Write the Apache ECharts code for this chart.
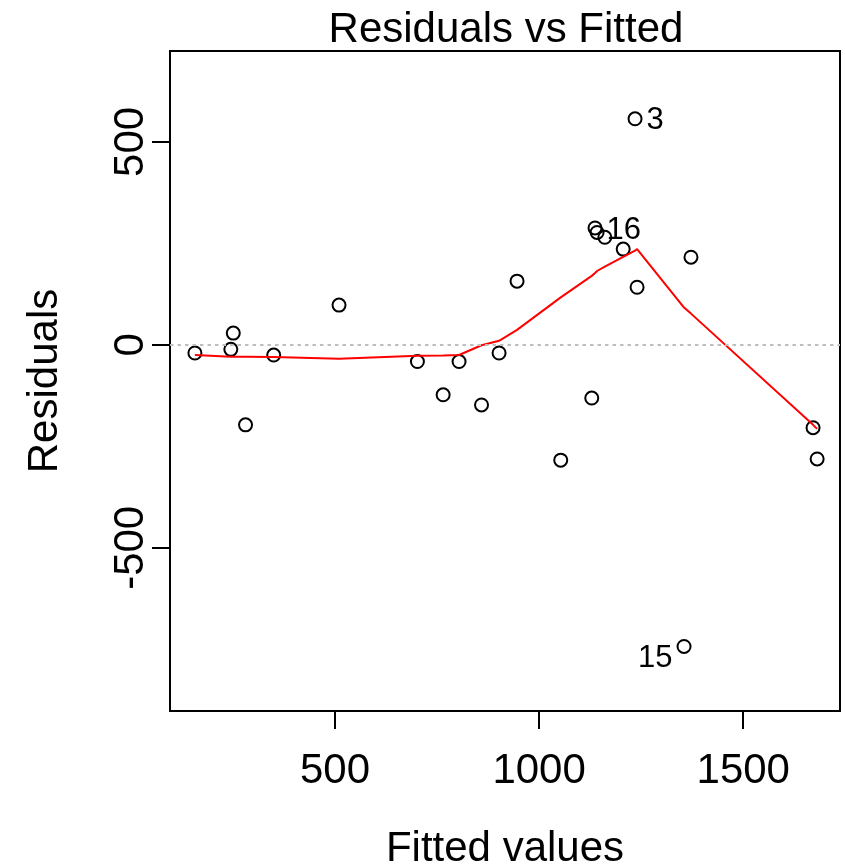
<!DOCTYPE html>
<html>
<head>
<meta charset="utf-8">
<title>Residuals vs Fitted</title>
<script src="https://cdn.jsdelivr.net/npm/echarts@6/dist/echarts.min.js"></script>
<style>
  html, body { margin: 0; padding: 0; background: #ffffff; overflow: hidden; }
  #chart { width: 845px; height: 865px; }
</style>
</head>
<body>
<div id="chart"></div>
<script>
// Fitted values and residuals of the linear model, in observation order (obs 1..24)
const fitted = [157, 251, 1235, 245, 281, 350, 510, 702, 765, 804, 859, 902,
                946, 1053, 1355, 1137, 1129, 1142, 1161, 1206, 1240, 1372, 1671, 1681];
const residuals = [-20, 29, 557, -11, -197, -25, 98, -41, -123, -41, -148, -20,
                   157, -284, -743, 288, -131, 277, 265, 236, 142, 216, -204, -281];
// Lowess smooth of the residuals, evaluated at each fitted value (same order)
const smoothed = [-25, -29, 232, -29, -29, -30, -34, -27, -26, -25, -1, 10,
                  37, 117, 92, 177, 170, 182, 193, 217, 236, 77, -197, -207];

const xTicks = [500, 1000, 1500];
const yTicks = [-500, 0, 500];
const xRange = [96, 1737];
const yRange = [-902, 724];
const nLabelled = 3;

const FONT = "'Liberation Sans', Arial, Helvetica, sans-serif";

// observations with the largest absolute residuals get their index drawn
const order = residuals.map((r, i) => i)
  .sort((a, b) => Math.abs(residuals[b]) - Math.abs(residuals[a]));
const flagged = order.slice(0, nLabelled);
const flagX = flagged.map(i => fitted[i]);
const flagMid = (Math.min(...flagX) + Math.max(...flagX)) / 2;

const points = fitted.map((x, i) => {
  const item = { value: [x, residuals[i]] };
  if (flagged.includes(i)) {
    const onLeft = x > flagMid;
    item.label = {
      show: true,
      formatter: String(i + 1),
      position: onLeft ? 'left' : 'right',
      distance: 4,
      offset: [0, residuals[i] < 0 ? 12 : 2],
      color: '#000',
      opacity: 1,
      textBorderWidth: 0,
      fontSize: 31,
      fontFamily: FONT
    };
  }
  return item;
});

const smoothLine = fitted.map((x, i) => [x, smoothed[i]]).sort((a, b) => a[0] - b[0]);

const plain = v => String(v);

const chart = echarts.init(document.getElementById('chart'), null, { renderer: 'canvas' });
chart.setOption({
  animation: false,
  backgroundColor: '#ffffff',
  textStyle: { fontFamily: FONT },
  title: {
    text: 'Residuals vs Fitted',
    left: 506,
    top: 9,
    textAlign: 'center',
    padding: 0,
    textStyle: { fontSize: 42, fontWeight: 'normal', color: '#000', fontFamily: FONT }
  },
  grid: {
    left: 170, right: 5, top: 51, bottom: 154,
    outerBoundsMode: 'none',
    containLabel: false,
    show: true, borderColor: '#000', borderWidth: 2,
    backgroundColor: 'transparent'
  },
  xAxis: {
    type: 'value',
    min: xRange[0], max: xRange[1],
    name: 'Fitted values',
    nameLocation: 'middle',
    nameGap: 117,
    nameTextStyle: { fontSize: 42, color: '#000', fontFamily: FONT },
    axisLine: { show: false, onZero: false },
    splitLine: { show: false },
    axisTick: {
      show: true, inside: false, length: 18,
      customValues: xTicks,
      lineStyle: { color: '#000', width: 2 }
    },
    axisLabel: {
      customValues: xTicks,
      formatter: plain,
      margin: 39,
      fontSize: 42, color: '#000', fontFamily: FONT
    }
  },
  yAxis: {
    type: 'value',
    min: yRange[0], max: yRange[1],
    name: 'Residuals',
    nameLocation: 'middle',
    nameGap: 104,
    nameTextStyle: { fontSize: 42, color: '#000', fontFamily: FONT },
    axisLine: { show: false, onZero: false },
    splitLine: { show: false },
    axisTick: {
      show: true, inside: false, length: 18,
      customValues: yTicks,
      lineStyle: { color: '#000', width: 2 }
    },
    axisLabel: {
      customValues: yTicks,
      formatter: plain,
      rotate: 90,
      margin: 18,
      fontSize: 42, color: '#000', fontFamily: FONT
    }
  },
  series: [
    {
      type: 'scatter',
      data: points,
      symbol: 'circle',
      symbolSize: 13,
      itemStyle: { color: 'rgba(0,0,0,0)', borderColor: '#000', borderWidth: 2, opacity: 1 },
      z: 2
    },
    {
      type: 'line',
      data: smoothLine,
      showSymbol: false,
      symbol: 'none',
      lineStyle: { color: '#ff0000', width: 2 },
      z: 3,
      markLine: {
        silent: true,
        symbol: 'none',
        label: { show: false },
        lineStyle: { color: '#bebebe', type: [3.5, 4], width: 2 },
        data: [{ yAxis: 0 }]
      }
    }
  ]
});
</script>
</body>
</html>
